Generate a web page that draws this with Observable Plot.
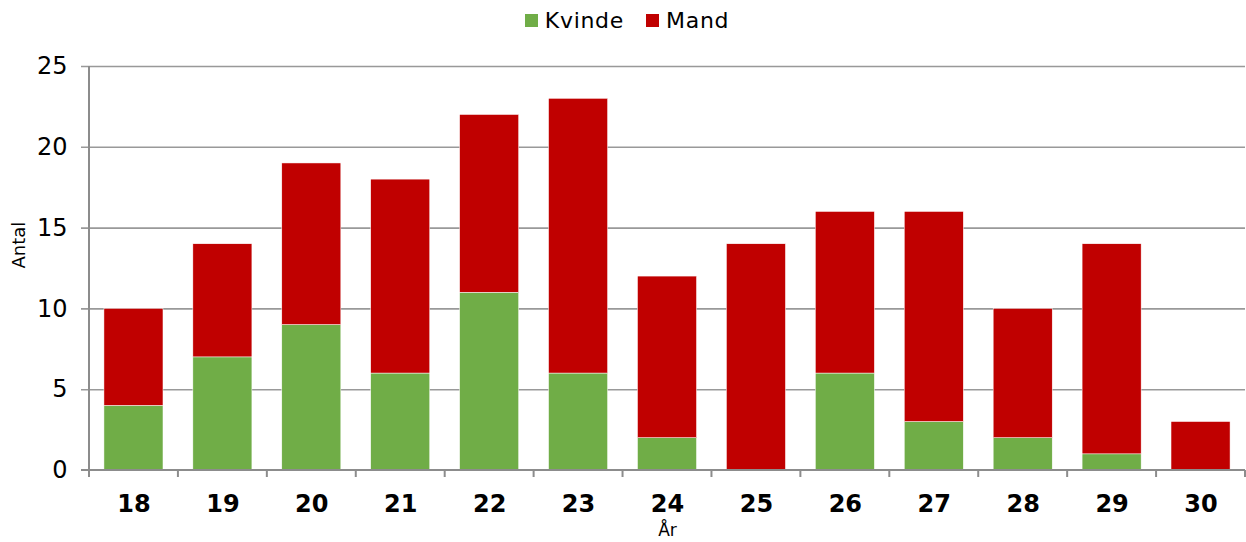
<!DOCTYPE html>
<html><head><meta charset="utf-8">
<script src="https://cdn.jsdelivr.net/npm/d3@7"></script>
<script src="https://cdn.jsdelivr.net/npm/@observablehq/plot@0.6"></script>
<style>
body{margin:0;background:#fff;font-family:"DejaVu Sans",Verdana,sans-serif;overflow:hidden;}
#legend{height:45px;display:flex;justify-content:center;align-items:center;gap:22px;font-size:22px;letter-spacing:0.7px;color:#000;padding-bottom:5px;padding-left:8px;box-sizing:border-box;}
#legend .item{display:flex;align-items:center;gap:7px;}
#legend .sw{width:13px;height:13px;display:inline-block;}
svg{display:block;}
</style></head>
<body>
<div id="legend"></div>
<div id="chart"></div>
<script>
const years = ["18","19","20","21","22","23","24","25","26","27","28","29","30"];
const kvinde = [4,7,9,6,11,6,2,0,6,3,2,1,0];
const mand = [6,7,10,12,11,17,10,14,10,13,8,13,3];
const series = ["Kvinde","Mand"];
const colors = ["#70AD47","#C00000"];
const yTicks = [0,5,10,15,20,25];

const data = years.flatMap((yr,i)=>[
  {year:yr, serie:"Kvinde", n:kvinde[i]},
  {year:yr, serie:"Mand", n:mand[i]}
]);

const leg = document.getElementById("legend");
series.forEach((s,i)=>{
  const it = document.createElement("span"); it.className="item";
  const sw = document.createElement("span"); sw.className="sw"; sw.style.background=colors[i];
  const t = document.createElement("span"); t.textContent=s;
  it.appendChild(sw); it.appendChild(t); leg.appendChild(it);
});

const axisLines = (index, scales, values, dims) => {
  const left = dims.marginLeft, right = dims.width - dims.marginRight;
  const top = dims.marginTop, bottom = dims.height - dims.marginBottom;
  const step = (right-left)/years.length;
  const g = d3.create("svg:g").attr("stroke","#8c8c8c").attr("stroke-width",2).attr("fill","none");
  g.append("line").attr("x1",left).attr("x2",left).attr("y1",top).attr("y2",bottom+7);
  g.append("line").attr("x1",left-8).attr("x2",right).attr("y1",bottom).attr("y2",bottom);
  for(let i=1;i<=years.length;i++){
    const xx = left + i*step;
    g.append("line").attr("x1",xx).attr("x2",xx).attr("y1",bottom).attr("y2",bottom+7);
  }
  return g.node();
};

const chart = Plot.plot({
  width:1246, height:497,
  marginTop:21, marginBottom:72, marginLeft:89, marginRight:1,
  style:{fontFamily:"DejaVu Sans, Verdana, sans-serif", fontSize:"24px", color:"#000", background:"#fff"},
  x:{domain:years, paddingInner:0.336, paddingOuter:0.168, round:false, label:null},
  y:{domain:[0,25], label:null},
  color:{domain:series, range:colors},
  marks:[
    Plot.ruleY(yTicks.slice(1), {stroke:"#999999", strokeWidth:1.6, insetLeft:-8}),
    Plot.barY(data, {x:"year", y:"n", fill:"serie", stroke:"white", strokeWidth:0.5}),
    Plot.axisY({ticks:yTicks, tickSize:0, tickPadding:22, label:null}),
    Plot.axisX({tickSize:0, tickPadding:24, fontWeight:"bold", label:null}),
    axisLines,
    Plot.text(["År"], {frameAnchor:"bottom", dy:65, fontSize:17}),
    Plot.text(["Antal"], {frameAnchor:"left", rotate:-90, dx:-70, fontSize:18})
  ]
});
document.getElementById("chart").appendChild(chart);
</script>
</body></html>
